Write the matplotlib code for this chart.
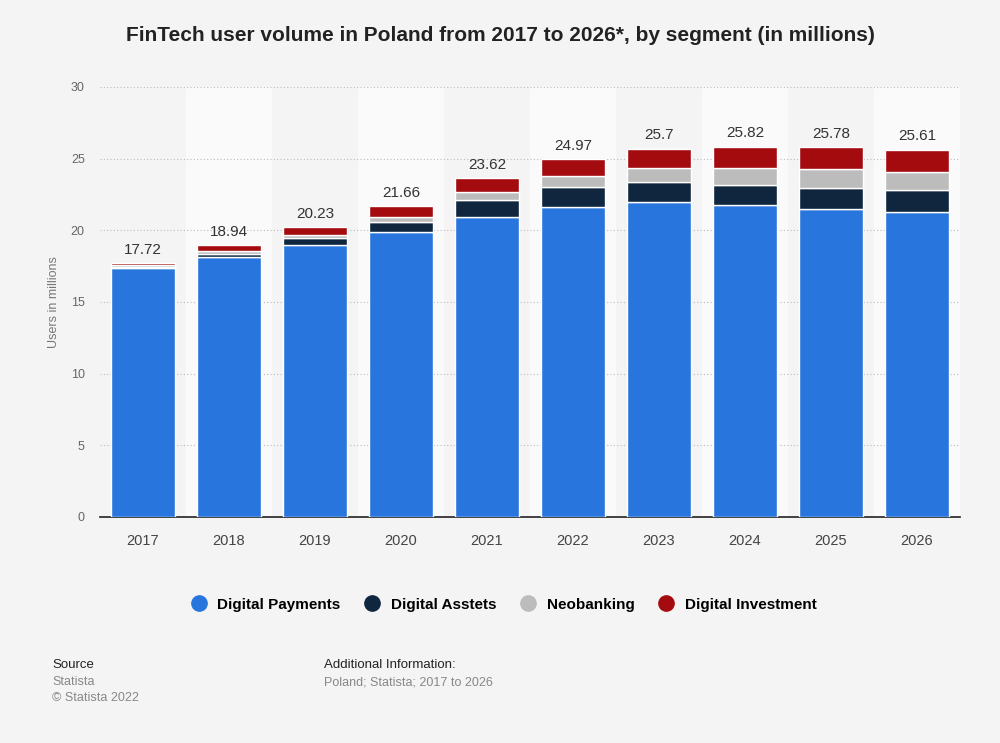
import numpy as np
import matplotlib.pyplot as plt

plt.rcParams['font.family'] = ['Liberation Sans', 'DejaVu Sans']

# data (millions of users)
years = ['2017', '2018', '2019', '2020', '2021', '2022', '2023', '2024', '2025', '2026']
digital_payments = [17.35, 18.12, 19.00, 19.90, 20.90, 21.65, 21.95, 21.75, 21.46, 21.30]
digital_assets = [0.10, 0.25, 0.45, 0.65, 1.18, 1.40, 1.40, 1.43, 1.47, 1.50]
neobanking = [0.10, 0.20, 0.25, 0.38, 0.56, 0.73, 0.98, 1.16, 1.34, 1.29]
digital_investment = [0.17, 0.37, 0.53, 0.73, 0.98, 1.19, 1.37, 1.48, 1.51, 1.52]
totals = ['17.72', '18.94', '20.23', '21.66', '23.62', '24.97', '25.7', '25.82', '25.78', '25.61']

series = [
    ('Digital Payments', digital_payments, '#2876dd'),
    ('Digital Asstets', digital_assets, '#10263f'),
    ('Neobanking', neobanking, '#bcbcbc'),
    ('Digital Investment', digital_investment, '#a30b0e'),
]

bg = '#f4f4f4'
fig = plt.figure(figsize=(10, 7.43), dpi=100, facecolor=bg)
ax = fig.add_axes([0.1, 0.3042, 0.86, 0.5788])
ax.set_facecolor(bg)

x = np.arange(len(years))
# lighter bands behind every other column
for i in x:
    if i % 2 == 1:
        ax.axvspan(i - 0.5, i + 0.5, color='#fafafa', zorder=0, lw=0)

bottom = np.zeros(len(years))
for name, vals, col in series:
    ax.bar(x, vals, 0.75, bottom=bottom, color=col, edgecolor='white',
           linewidth=1, label=name, zorder=3)
    bottom += np.array(vals)

for i, t in enumerate(totals):
    ax.text(x[i], bottom[i] + 0.45, t, ha='center', va='bottom',
            fontsize=11, color='#333333', zorder=4)

ax.set_xlim(-0.5, len(years) - 0.5)
ax.set_ylim(0, 30)
ax.set_yticks(range(0, 31, 5))
ax.set_xticks(x)
ax.set_xticklabels(years)
ax.yaxis.grid(True, color='#bbbbbb', linestyle=(0, (1, 2)), linewidth=0.8, zorder=1)
ax.set_axisbelow(True)
for s in ['top', 'right', 'left']:
    ax.spines[s].set_visible(False)
ax.spines['bottom'].set_color('#222222')
ax.spines['bottom'].set_linewidth(1.2)
ax.tick_params(axis='y', length=0, labelsize=9, colors='#666666', pad=11)
ax.tick_params(axis='x', length=0, labelsize=10.5, colors='#444444', pad=12)
ax.set_ylabel('Users in millions', fontsize=9, color='#777777')
ax.yaxis.set_label_coords(-0.047, 0.5)

fig.text(0.5, 0.952, 'FinTech user volume in Poland from 2017 to 2026*, by segment (in millions)',
         ha='center', va='center', fontsize=15, fontweight='bold', color='#222222')

handles = [plt.Line2D([], [], marker='o', linestyle='', markersize=11,
                      markerfacecolor=c, markeredgecolor=c) for _, _, c in series]
fig.legend(handles, [n for n, _, _ in series], loc='center', bbox_to_anchor=(0.5, 0.186),
           ncol=4, frameon=False, handletextpad=0.2, columnspacing=1.1,
           prop={'weight': 'bold', 'size': 11})

fig.text(0.052, 0.105, 'Source', fontsize=9.5, color='#222222', va='center')
fig.text(0.052, 0.082, 'Statista', fontsize=9, color='#888888', va='center')
fig.text(0.052, 0.060, '\u00a9 Statista 2022', fontsize=9, color='#888888', va='center')
fig.text(0.324, 0.105, 'Additional Information:', fontsize=9.5, color='#222222', va='center')
fig.text(0.324, 0.082, 'Poland; Statista; 2017 to 2026', fontsize=9, color='#888888', va='center')

fig.savefig('out.png', dpi=100, facecolor=bg)
